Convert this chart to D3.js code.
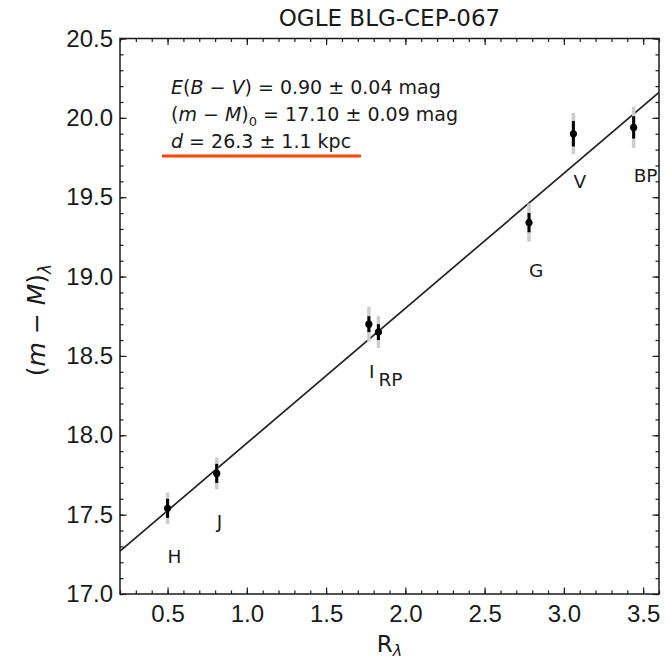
<!DOCTYPE html>
<html>
<head>
<meta charset="utf-8">
<script src="https://cdn.jsdelivr.net/npm/d3@7/dist/d3.min.js"></script>
<style>
  html, body { margin: 0; padding: 0; background: #fff; }
  svg { display: block; font-family: "DejaVu Sans", sans-serif; }
</style>
</head>
<body>
<svg id="chart" width="668" height="660"></svg>
<script>
// Photometric bands and their extinction ratios / apparent distance moduli
const bands = ["H", "J", "I", "RP", "G", "V", "BP"];
const rLambda = [0.50, 0.81, 1.77, 1.83, 2.78, 3.06, 3.44];
const modulus = [17.54, 17.76, 18.70, 18.65, 19.34, 19.90, 19.94];
const errInner = [0.06, 0.06, 0.05, 0.05, 0.06, 0.08, 0.07];
const errOuter = [0.10, 0.10, 0.11, 0.10, 0.12, 0.13, 0.13];

// Linear fit: (m-M)_lambda = (m-M)_0 + slope * R_lambda
const fitIntercept = 17.10;
const fitSlope = 0.85;

const xTicks = [0.5, 1.0, 1.5, 2.0, 2.5, 3.0, 3.5];
const yTicks = [17.0, 17.5, 18.0, 18.5, 19.0, 19.5, 20.0, 20.5];
const xDomain = [0.2, 3.6];
const yDomain = [17.0, 20.5];

const titleText = "OGLE BLG-CEP-067";

(function draw() {
const svg = d3.select("#chart");
const pLeft = 120, pRight = 659, pTop = 38.5, pBottom = 594;

const x = d3.scaleLinear().domain(xDomain).range([pLeft, pRight]);
const y = d3.scaleLinear().domain(yDomain).range([pBottom, pTop]);

const ink = "#1a1a1a";

// Axes with inward ticks on all four sides
const minorX = d3.range(0.2, 3.6001, 0.1).map(v => +v.toFixed(2));
const minorY = d3.range(17.0, 20.5001, 0.1).map(v => +v.toFixed(2));

function styleAxis(g) {
  g.select(".domain").remove();
  g.selectAll(".tick line").attr("stroke", ink).attr("stroke-width", 1.2);
}

// bottom
svg.append("g").attr("transform", `translate(0,${pBottom})`)
  .call(d3.axisBottom(x).tickValues(minorX).tickSize(-3.5).tickFormat(""))
  .call(styleAxis);
svg.append("g").attr("transform", `translate(0,${pBottom})`)
  .call(d3.axisBottom(x).tickValues(xTicks).tickSize(-6.5).tickFormat(d3.format(".1f")))
  .call(styleAxis)
  .call(g => g.selectAll("text").attr("font-size", 24).attr("fill", ink).attr("dy", 0).attr("y", 28));
// top
svg.append("g").attr("transform", `translate(0,${pTop})`)
  .call(d3.axisTop(x).tickValues(minorX).tickSize(-3.5).tickFormat(""))
  .call(styleAxis);
svg.append("g").attr("transform", `translate(0,${pTop})`)
  .call(d3.axisTop(x).tickValues(xTicks).tickSize(-6.5).tickFormat(""))
  .call(styleAxis);
// left
svg.append("g").attr("transform", `translate(${pLeft},0)`)
  .call(d3.axisLeft(y).tickValues(minorY).tickSize(-3.5).tickFormat(""))
  .call(styleAxis);
svg.append("g").attr("transform", `translate(${pLeft},0)`)
  .call(d3.axisLeft(y).tickValues(yTicks).tickSize(-6.5).tickFormat(d3.format(".1f")))
  .call(styleAxis)
  .call(g => g.selectAll("text").attr("font-size", 24).attr("fill", ink).attr("x", -7));
// right
svg.append("g").attr("transform", `translate(${pRight},0)`)
  .call(d3.axisRight(y).tickValues(minorY).tickSize(-3.5).tickFormat(""))
  .call(styleAxis);
svg.append("g").attr("transform", `translate(${pRight},0)`)
  .call(d3.axisRight(y).tickValues(yTicks).tickSize(-6.5).tickFormat(""))
  .call(styleAxis);

// Frame
svg.append("rect")
  .attr("x", pLeft).attr("y", pTop)
  .attr("width", pRight - pLeft).attr("height", pBottom - pTop)
  .attr("fill", "none").attr("stroke", ink).attr("stroke-width", 1.5);

// Plot area clip
svg.append("clipPath").attr("id", "plotclip")
  .append("rect").attr("x", pLeft).attr("y", pTop)
  .attr("width", pRight - pLeft).attr("height", pBottom - pTop);

const plot = svg.append("g").attr("clip-path", "url(#plotclip)");

// Fit line
const line = d3.line().x(d => x(d)).y(d => y(fitIntercept + fitSlope * d));
plot.append("path")
  .datum(xDomain)
  .attr("d", line)
  .attr("fill", "none")
  .attr("stroke", "#222")
  .attr("stroke-width", 1.7);

const pts = bands.map((b, i) => ({
  band: b, r: rLambda[i], m: modulus[i], e1: errInner[i], e2: errOuter[i]
}));

// Outer (total) error bars
plot.selectAll(".errOuter").data(pts).enter().append("line")
  .attr("x1", d => x(d.r)).attr("x2", d => x(d.r))
  .attr("y1", d => y(d.m - d.e2)).attr("y2", d => y(d.m + d.e2))
  .attr("stroke", "#cdcdcd").attr("stroke-width", 3.5);

// Inner error bars
plot.selectAll(".errInner").data(pts).enter().append("line")
  .attr("x1", d => x(d.r)).attr("x2", d => x(d.r))
  .attr("y1", d => y(d.m - d.e1)).attr("y2", d => y(d.m + d.e1))
  .attr("stroke", "#000").attr("stroke-width", 3);

// Points
plot.selectAll(".pt").data(pts).enter().append("circle")
  .attr("cx", d => x(d.r)).attr("cy", d => y(d.m))
  .attr("r", 3.6).attr("fill", "#000");

// Band labels, placed below each point
const labelDrop = 0.3;
svg.selectAll(".band").data(pts).enter().append("text")
  .attr("x", d => x(d.r)).attr("y", d => y(d.m - labelDrop))
  .attr("dy", "0.36em")
  .attr("font-size", 18.5).attr("fill", ink)
  .text(d => d.band);

// Title
svg.append("text")
  .attr("x", (pLeft + pRight) / 2).attr("y", 26)
  .attr("text-anchor", "middle")
  .attr("font-size", 23).attr("fill", ink)
  .text(titleText);

// Axis labels
const xl = svg.append("text")
  .attr("x", (pLeft + pRight) / 2).attr("y", 652)
  .attr("text-anchor", "middle")
  .attr("font-size", 23).attr("fill", ink);
xl.append("tspan").text("R");
xl.append("tspan").attr("font-size", 16).attr("font-style", "italic").attr("dy", 4).text("λ");

const yl = svg.append("text")
  .attr("transform", "translate(45,320) rotate(-90)")
  .attr("text-anchor", "middle")
  .attr("font-size", 25).attr("fill", ink);
yl.append("tspan").text("(");
yl.append("tspan").attr("font-style", "italic").text("m");
yl.append("tspan").text(" − ");
yl.append("tspan").attr("font-style", "italic").text("M");
yl.append("tspan").text(")");
yl.append("tspan").attr("font-size", 17).attr("font-style", "italic").attr("dy", 6).text("λ");

// Fit results annotation
const annX = 171;
const annSize = 19;
const a1 = svg.append("text").attr("x", annX).attr("y", 94).attr("font-size", annSize).attr("fill", ink);
a1.append("tspan").attr("font-style", "italic").text("E");
a1.append("tspan").text("(");
a1.append("tspan").attr("font-style", "italic").text("B");
a1.append("tspan").text(" − ");
a1.append("tspan").attr("font-style", "italic").text("V");
a1.append("tspan").text(") = 0.90 ± 0.04 mag");

const a2 = svg.append("text").attr("x", annX).attr("y", 121).attr("font-size", annSize).attr("fill", ink);
a2.append("tspan").text("(");
a2.append("tspan").attr("font-style", "italic").text("m");
a2.append("tspan").text(" − ");
a2.append("tspan").attr("font-style", "italic").text("M");
a2.append("tspan").text(")");
a2.append("tspan").attr("font-size", 13).attr("dy", 5).text("0");
a2.append("tspan").attr("dy", -5).text(" = 17.10 ± 0.09 mag");

const a3 = svg.append("text").attr("x", annX).attr("y", 148).attr("font-size", annSize).attr("fill", ink);
a3.append("tspan").attr("font-style", "italic").text("d");
a3.append("tspan").text(" = 26.3 ± 1.1 kpc");

// Highlight underline
svg.append("line")
  .attr("x1", 162).attr("x2", 361)
  .attr("y1", 156).attr("y2", 156)
  .attr("stroke", "#ff4500").attr("stroke-width", 3);
})();
</script>
</body>
</html>
